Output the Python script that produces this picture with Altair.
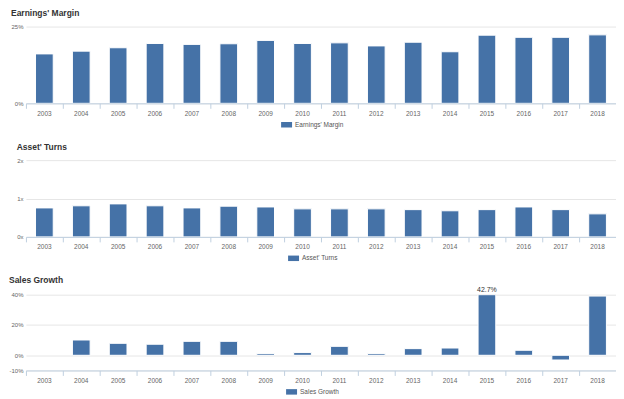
import altair as alt
import pandas as pd

years = [str(y) for y in range(2003, 2019)]
margin = [16.1, 17.0, 18.1, 19.5, 19.2, 19.4, 20.5, 19.5, 19.7, 18.7, 19.9, 16.8, 22.2, 21.5, 21.5, 22.3]
turns = [0.755, 0.81, 0.86, 0.81, 0.755, 0.80, 0.78, 0.73, 0.73, 0.73, 0.71, 0.68, 0.71, 0.78, 0.71, 0.60]
growth = [None, 10.1, 7.9, 7.3, 9.2, 9.2, 1.1, 1.8, 5.9, 1.1, 4.4, 4.8, 42.7, 3.3, -3.1, 39.1]

BLUE = "#4572A7"
FONT = "Liberation Sans"
W = 592


def panel(values, title, label, domain, ticks, suffix, h, legend_x, title_offset=6):
    df = pd.DataFrame({"year": years, "value": values, "series": label})
    df = df.dropna()
    top = domain[1]
    base = alt.Chart(df).transform_calculate(
        vclip=f"min(datum.value, {top})"
    )
    x_enc = alt.X(
        "year:N",
        scale=alt.Scale(domain=years, paddingInner=0, paddingOuter=0),
        axis=alt.Axis(
            title=None, labelAngle=0, labelFontSize=6.5, labelColor="#666666",
            labelFont=FONT, domainColor="#C0D0E0", tickColor="#C0D0E0",
            tickSize=5, labelPadding=2, grid=False, bandPosition=0,
        ),
    )
    y_enc = alt.Y(
        "vclip:Q",
        scale=alt.Scale(domain=domain, nice=False, zero=True),
        axis=alt.Axis(
            title=None, values=ticks, labelExpr=f"datum.value + '{suffix}'",
            labelFontSize=6, labelColor="#666666", labelFont=FONT,
            domain=False, ticks=False, gridColor="#E6E6E6", labelPadding=3,
            labelOverlap=False, labelFlush=False,
        ),
    )
    bars = base.mark_bar(
        width=alt.RelativeBandSize(0.48), stroke="white", strokeWidth=1, clip=True
    ).encode(
        x=x_enc,
        y=y_enc,
        color=alt.Color(
            "series:N",
            scale=alt.Scale(range=[BLUE]),
            legend=alt.Legend(
                title=None, orient="none", legendX=legend_x, legendY=h + 16,
                symbolType="M-1,-0.5H1V0.5H-1Z", symbolSize=121, symbolStrokeWidth=0,
                labelFontSize=6.5, labelColor="#555555", labelFont=FONT, labelOffset=3,
            ),
        ),
    )
    layers = [bars]
    if max(v for v in values if v is not None) > top:
        over = base.transform_filter(f"datum.value > {top}").transform_calculate(
            lbl="format(datum.value, '.1f') + '%'"
        ).mark_text(
            baseline="bottom", dy=-2, fontSize=7, font=FONT, color="#333333"
        ).encode(
            x=x_enc,
            y=y_enc,
            text="lbl:N",
        )
        layers.append(over)
    return alt.layer(*layers).properties(
        width=W, height=h,
        title=alt.TitleParams(
            text=title, anchor="start", frame="bounds", fontSize=8.5,
            fontWeight="bold", color="#333333", font=FONT, offset=title_offset,
        ),
    )


p1 = panel(margin, "Earnings' Margin", "Earnings' Margin", [0, 25], [0, 25], "%", 77, 256)
p2 = panel(turns, "Asset' Turns", "Asset' Turns", [0, 2], [0, 1, 2], "x", 77, 263)
p3 = panel(growth, "Sales Growth", "Sales Growth", [-10, 40], [-10, 0, 20, 40], "%", 76, 261,
           title_offset=1)

chart = alt.vconcat(p1, p2, p3, spacing=14, padding=0).resolve_scale(
    color="independent", y="independent"
).resolve_legend(color="independent").configure_view(stroke=None)

chart.save("out.html", embed_options={"renderer": "svg", "actions": False})
